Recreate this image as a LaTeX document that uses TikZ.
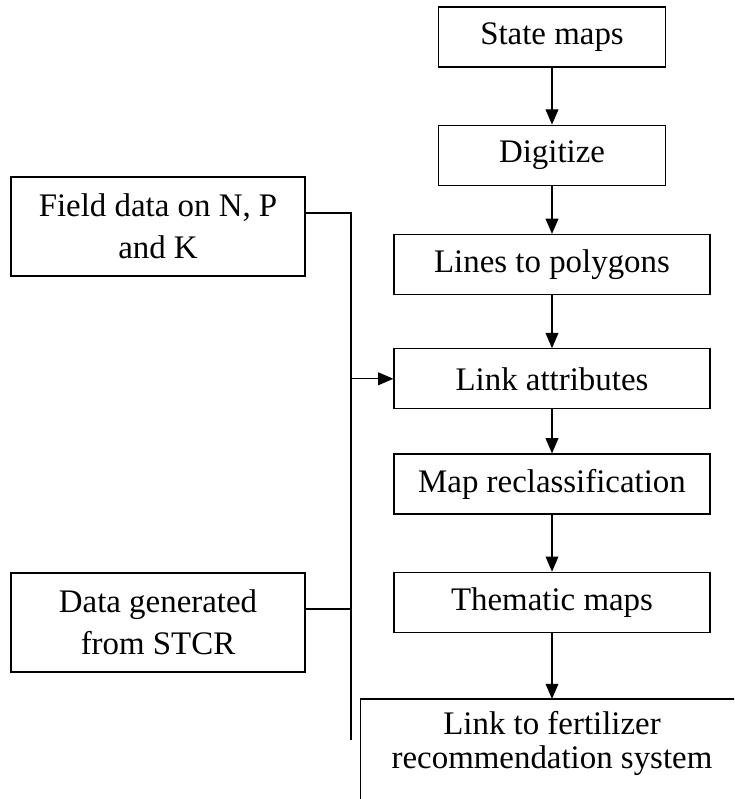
\documentclass[tikz,border=0pt]{standalone}
\usepackage{fontspec}
\setmainfont{Liberation Serif}
\usepackage{tikz}
\usetikzlibrary{arrows.meta,positioning}
\tikzset{
  % Base box
  FB/.style={rectangle,draw,line width=0.9pt,inner sep=0pt,
             minimum width=7.9cm,minimum height=1.5cm,
             text centered,align=center,
             font=\fontsize{23.4}{29.8}\selectfont},
  % Arrow
  arr/.style={-{Triangle[length=0.38cm,width=0.32cm]},line width=0.8pt},
  % Plain line
  ln/.style={line width=0.8pt}
}

\begin{document}
\begin{tikzpicture}
  \useasboundingbox (0,0) rectangle (18.35,-19.975);
  \clip (0,0) rectangle (18.35,-19.975);
  % main column
  \node[FB,minimum width=5.675cm] (state) at (13.8,-0.925) {State maps};
  \node[FB,minimum width=5.675cm,below=1.425cm of state] (digit) {Digitize};
  \node[FB,below=1.2cm of digit]      (lines)    {Lines to polygons};
  \node[FB,below=1.325cm of lines]    (link)     {Link attributes};
  \node[FB,below=1.1cm of link]       (reclass)  {Map reclassification};
  \node[FB,below=1.425cm of reclass]  (thematic) {Thematic maps};
  \node[FB,draw=none,minimum width=9.55cm,minimum height=2.2cm,
        font=\fontsize{23.4}{24.1}\selectfont,
        below=1.65cm of thematic] (recsys) {Link to fertilizer\\recommendation system};
  % open frame of the last box
  \draw[ln,line width=0.9pt] ([yshift=-1cm]recsys.south west) |- (recsys.north east);
  % input data
  \node[FB,minimum width=7.35cm,minimum height=2.475cm] (field) at (3.95,-5.6625) {Field data on N, P\\and K};
  \node[FB,minimum width=7.35cm,minimum height=2.475cm] (stcr)  at (3.95,-15.5625) {Data generated\\from STCR};
  \coordinate (trunkend) at (8.775,-18.5);
  % connectors
  \draw[ln] ([yshift=0.3375cm]field.east) -| (trunkend);
  \draw[ln] ([yshift=0.3375cm]stcr.east) -- ([yshift=0.3375cm]stcr.east -| trunkend);
  \draw[arr] (link.west -| trunkend) -- (link.west);
  \draw[arr] (state) -- (digit);
  \draw[arr] (digit) -- (lines);
  \draw[arr] (lines) -- (link);
  \draw[arr] (link) -- (reclass);
  \draw[arr] (reclass) -- (thematic);
  \draw[arr] (thematic) -- (recsys);
\end{tikzpicture}
\end{document}
